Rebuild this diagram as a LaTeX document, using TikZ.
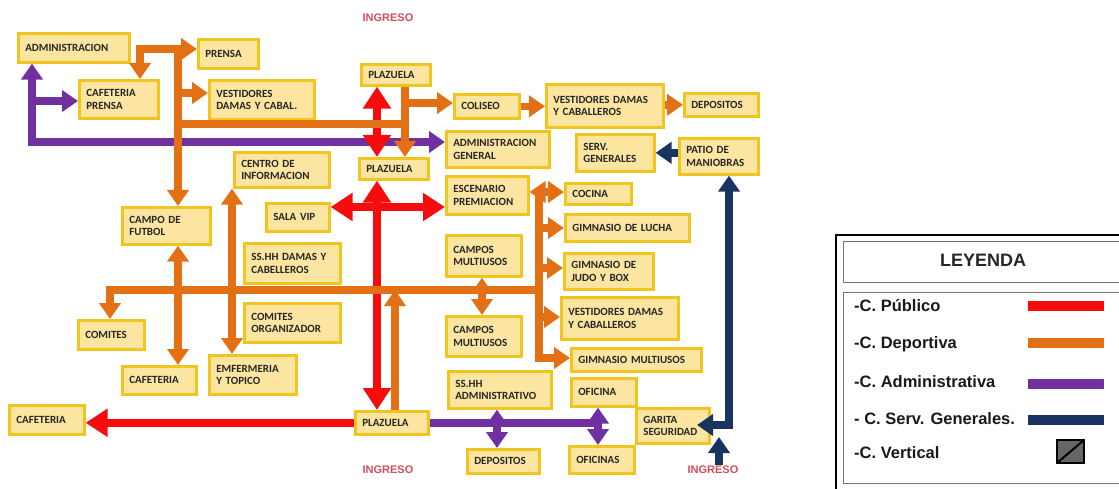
\documentclass[tikz,border=0pt]{standalone}
\usepackage{fontspec}
\setmainfont{Carlito}
\newfontfamily\arialf{Liberation Sans}
\usetikzlibrary{arrows.meta}
\definecolor{boxfill}{RGB}{252,229,160}
\definecolor{boxline}{RGB}{242,196,30}
\definecolor{pubC}{RGB}{245,12,12}
\definecolor{depC}{RGB}{228,112,22}
\definecolor{admC}{RGB}{112,48,160}
\definecolor{srvC}{RGB}{24,52,96}
\definecolor{ingC}{RGB}{208,78,92}
\definecolor{txtC}{RGB}{38,38,38}
\tikzset{
 box/.style={draw=boxline, line width=2.6pt, fill=boxfill, anchor=north west, inner xsep=7pt, inner ysep=2pt, align=left, font=\fontsize{11}{12.5}\selectfont\bfseries, text=txtC},
 conn/.style={line width=7.5pt, >={Triangle[length=16pt,width=21pt]}},
 dep/.style={conn, draw=depC},
 adm/.style={conn, draw=admC},
 srv/.style={conn, draw=srvC},
 pub/.style={line width=8.5pt, draw=pubC, >={Triangle[length=22pt,width=27pt]}},
 ingreso/.style={font=\arialf\bfseries\fontsize{11}{12}\selectfont, text=ingC, inner sep=1pt},
 legtext/.style={font=\arialf\bfseries\fontsize{16.5}{18}\selectfont, text=black!90, anchor=west, inner sep=0pt},
}
\newcommand\bx[6]{%
 \pgfmathsetmacro\bw{#4-#2}\pgfmathsetmacro\bh{#5-#3}\pgfmathsetmacro\tw{#4-#2-14}%
 \node[box,minimum width=\bw pt,minimum height=\bh pt,text width=\tw pt] (#1) at (#2,#3) {#6};}
\begin{document}
\begin{tikzpicture}[x=1pt,y=-1pt]
\useasboundingbox (0,0) rectangle (1119,489);
% boxes
\bx{admin}{17}{32}{128}{61}{ADMINISTRACION}
\bx{prensa}{197}{38}{257}{67}{PRENSA}
\bx{cafpren}{78}{79}{157}{117}{CAFETERIA\\PRENSA}
\bx{vest1}{208}{79}{313}{118}{VESTIDORES\\DAMAS Y CABAL.}
\bx{plazA}{360}{63}{429}{84}{PLAZUELA}
\bx{coliseo}{453}{93}{518}{117}{COLISEO}
\bx{vest2}{545}{83}{662}{126}{VESTIDORES DAMAS\\Y CABALLEROS}
\bx{depo1}{683}{92}{757}{115}{DEPOSITOS}
\bx{admgen}{445}{130}{548}{166}{ADMINISTRACION\\GENERAL}
\bx{serv}{575}{133}{653}{170}{SERV.\\GENERALES}
\bx{patio}{678}{137}{757}{173}{PATIO DE\\MANIOBRAS}
\bx{centro}{233}{151}{328}{186}{CENTRO DE\\INFORMACION}
\bx{plazB}{358}{157}{427}{178}{PLAZUELA}
\bx{escen}{445}{175}{527}{213}{ESCENARIO\\PREMIACION}
\bx{cocina}{564}{182}{630}{203}{COCINA}
\bx{salavip}{265}{202}{328}{230}{SALA VIP}
\bx{campo}{121}{206}{209}{243}{CAMPO DE\\FUTBOL}
\bx{lucha}{564}{213}{688}{240}{GIMNASIO DE LUCHA}
\bx{camp1}{445}{234}{520}{275}{CAMPOS\\MULTIUSOS}
\bx{sshh}{243}{242}{339}{282}{SS.HH DAMAS Y\\CABELLEROS}
\bx{judo}{563}{252}{652}{288}{GIMNASIO DE\\JUDO Y BOX}
\bx{vest3}{560}{296}{677}{338}{VESTIDORES DAMAS\\Y CABALLEROS}
\bx{comorg}{243}{302}{339}{341}{COMITES\\ORGANIZADOR}
\bx{camp2}{445}{315}{520}{355}{CAMPOS\\MULTIUSOS}
\bx{comites}{77}{319}{143}{348}{COMITES}
\bx{gimmul}{570}{347}{700}{370}{GIMNASIO MULTIUSOS}
\bx{emf}{208}{354}{295}{393}{EMFERMERIA\\Y TOPICO}
\bx{caf1}{121}{365}{195}{393}{CAFETERIA}
\bx{ssadm}{447}{370}{550}{407}{SS.HH\\ADMINISTRATIVO}
\bx{oficina}{570}{377}{635}{405}{OFICINA}
\bx{caf2}{8}{404}{83}{433}{CAFETERIA}
\bx{garita}{635}{407}{708}{442}{GARITA\\SEGURIDAD}
\bx{plazC}{354}{410}{427}{433}{PLAZUELA}
\bx{depo2}{466}{448}{538}{472}{DEPOSITOS}
\bx{oficinas}{568}{445}{633}{472}{OFICINAS}
% ingreso labels
\node[ingreso] (ing1) at (388,18) {INGRESO};
\node[ingreso] (ing2) at (388,470) {INGRESO};
\node[ingreso] (ing3) at (713,470) {INGRESO};
% purple
\coordinate (pa) at (32,142);
\coordinate (pb) at (32,101);
\draw[adm,<->] (pa |- admin.south) -- (pa) -- (pa -| admgen.west);
\draw[adm,->] (pb) -- (pb -| cafpren.west);
\coordinate (pc) at (602,0);
\draw[adm] (plazC.east) -- (plazC.east -| pc);
\coordinate (pd) at (497,0);
\draw[adm,<->] (pd |- ssadm.south) -- (pd |- depo2.north);
\coordinate (pe) at (598,0);
\draw[adm,<->] (pe |- oficina.south) -- (pe |- oficinas.north);
% navy
\coordinate (na) at (729,425);
\coordinate (nc) at (697,425);
\draw[srv,<->] (nc) -- (na) -- (na |- patio.south);
\coordinate (nb) at (719,437);
\draw[srv,->] (nb |- ing3.north) -- (nb);
\draw[srv,->] (patio.west |- serv.east) -- (serv.east);
% red
\coordinate (ra) at (377,0);
\draw[pub,<->] (ra |- plazA.south) -- (ra |- plazB.north);
\draw[pub,<->] (ra |- plazB.south) -- (ra |- plazC.north);
\coordinate (rb) at (0,207);
\draw[pub,<->] (salavip.east |- rb) -- (escen.west |- rb);
\draw[pub,->] (plazC.west) -- (caf2.east |- plazC.west);
% orange
\coordinate (oa) at (178,49);
\draw[dep,->] (oa) -- (oa |- campo.north);
\coordinate (ob) at (140,49);
\draw[dep,<->] (ob |- cafpren.north) -- (ob) -- (prensa.west |- ob);
\coordinate (oc) at (178,93);
\draw[dep,->] (oc) -- (oc -| vest1.west);
\coordinate (od) at (178,124);
\coordinate (oe) at (409,124);
\draw[dep] (od) -- (oe);
\coordinate (of) at (405,103);
\draw[dep,->] (of |- plazA.south) -- (of |- plazB.north);
\draw[dep,->] (of) -- (of -| coliseo.west);
\draw[dep,->] (coliseo.east) -- (vest2.west |- coliseo.east);
\draw[dep,->] (vest2.east |- depo1.west) -- (depo1.west);
\coordinate (og) at (178,0);
\draw[dep,<->] (og |- campo.south) -- (og |- caf1.north);
\coordinate (oh) at (110,290);
\coordinate (oi) at (543,290);
\draw[dep,->] (oi) -- (oh) -- (oh |- comites.north);
\coordinate (oj) at (232,0);
\draw[dep,<->] (oj |- centro.south) -- (oj |- emf.north);
\coordinate (ok) at (395,290);
\draw[dep,->] (ok |- plazC.north) -- (ok);
\coordinate (ol) at (539,192);
\coordinate (om) at (539,358);
\draw[dep,<->] (escen.east |- ol) -- (cocina.west |- ol);
\draw[dep,->] (ol) -- (om) -- (om -| gimmul.west);
\coordinate (on) at (539,228);
\draw[dep,->] (on) -- (on -| lucha.west);
\coordinate (oo) at (539,268);
\draw[dep,->] (oo) -- (oo -| judo.west);
\coordinate (op) at (539,317);
\draw[dep,->] (op) -- (op -| vest3.west);
\coordinate (oq) at (482,0);
\draw[dep,<->] (oq |- camp1.south) -- (oq |- camp2.north);
% legend
\draw[line width=2pt] (836,235) rectangle (1140,500);
\draw[line width=0.9pt, draw=black!55] (843,241) rectangle (1140,282);
\draw[line width=0.9pt, draw=black!55] (843,292) rectangle (1140,483);
\node[font=\arialf\bfseries\fontsize{18}{20}\selectfont, text=black!85] (leyT) at (983,260) {LEYENDA};
\node[legtext] (l1) at (854,306) {-C. Público};
\node[legtext] (l2) at (854,344) {-C. Deportiva};
\node[legtext] (l3) at (854,382) {-C. Administrativa};
\node[legtext] (l4) at (854,419) {- C. Serv. Generales.};
\node[legtext] (l5) at (854,453) {-C. Vertical};
\fill[pubC] (1028,301) rectangle (1104,311);
\fill[depC] (1028,338) rectangle (1104,348);
\fill[admC] (1028,379) rectangle (1104,389);
\fill[srvC] (1028,415) rectangle (1104,425);
\draw[line width=2.5pt, fill=black!60] (1057,440) rectangle (1084,463);
\draw[line width=2pt] (1057,463) -- (1084,440);
\end{tikzpicture}
\end{document}
